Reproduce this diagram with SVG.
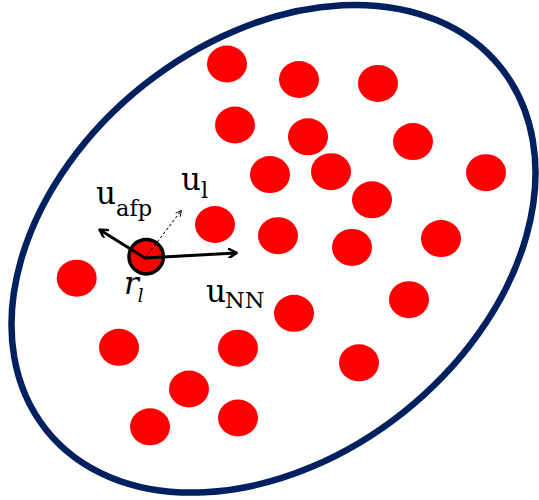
<svg xmlns="http://www.w3.org/2000/svg" width="539" height="500" viewBox="0 0 539 500">
<style>
.dot{fill:#ff0000}
.lbl{font-family:"DejaVu Serif","Liberation Serif",serif;fill:#000}
.main{font-size:31px}
.sub{font-size:22.5px}
.vec{stroke:#000;stroke-width:3;fill:none;stroke-linecap:round}
</style>
<defs>
<marker id="ah" markerWidth="10" markerHeight="10" refX="8" refY="5" orient="auto" markerUnits="userSpaceOnUse">
<path d="M1,0.5 L8.5,5 L1,9.5" fill="none" stroke="#000" stroke-width="2.5" stroke-linecap="round" stroke-linejoin="round"/>
</marker>
<marker id="ahs" markerWidth="8" markerHeight="8" refX="6" refY="4" orient="auto" markerUnits="userSpaceOnUse">
<path d="M1,1 L6.5,4 L1,7" fill="none" stroke="#000" stroke-width="1"/>
</marker>
</defs>
<g id="boundary">
<ellipse cx="273.5" cy="248.75" rx="290.6" ry="208.9" transform="rotate(-38.5 273.5 248.75)" fill="#fff" stroke="#002060" stroke-width="6.5"/>
</g>
<g id="particles">
<ellipse class="dot" cx="227" cy="64" rx="20" ry="18.5"/>
<ellipse class="dot" cx="299" cy="79.5" rx="20" ry="18.5"/>
<ellipse class="dot" cx="378" cy="83.4" rx="20" ry="18.5"/>
<ellipse class="dot" cx="235" cy="125" rx="20" ry="18.5"/>
<ellipse class="dot" cx="308" cy="136.8" rx="20" ry="18.5"/>
<ellipse class="dot" cx="413" cy="141.6" rx="20" ry="18.5"/>
<ellipse class="dot" cx="270" cy="174.6" rx="20" ry="18.5"/>
<ellipse class="dot" cx="331" cy="171.7" rx="20" ry="18.5"/>
<ellipse class="dot" cx="486" cy="172.7" rx="20" ry="18.5"/>
<ellipse class="dot" cx="372" cy="199.8" rx="20" ry="18.5"/>
<ellipse class="dot" cx="215" cy="224.5" rx="20" ry="18.5"/>
<ellipse class="dot" cx="278" cy="235.7" rx="20" ry="18.5"/>
<ellipse class="dot" cx="352" cy="247.4" rx="20" ry="18.5"/>
<ellipse class="dot" cx="441" cy="238.6" rx="20" ry="18.5"/>
<ellipse class="dot" cx="76.7" cy="278.2" rx="20" ry="18.5"/>
<ellipse class="dot" cx="294" cy="313.3" rx="20" ry="18.5"/>
<ellipse class="dot" cx="409" cy="299.7" rx="20" ry="18.5"/>
<ellipse class="dot" cx="119" cy="347.3" rx="20" ry="18.5"/>
<ellipse class="dot" cx="238" cy="348.2" rx="20" ry="18.5"/>
<ellipse class="dot" cx="359" cy="362.8" rx="20" ry="18.5"/>
<ellipse class="dot" cx="189" cy="389" rx="20" ry="18.5"/>
<ellipse class="dot" cx="150" cy="426.8" rx="20" ry="18.5"/>
<ellipse class="dot" cx="238" cy="418" rx="20" ry="18.5"/>
</g>
<g id="focal">
<circle cx="146.2" cy="256.7" r="17.2" fill="#ff0000" stroke="#000" stroke-width="3.5"/>
</g>
<g id="connectors">
<line class="vec" x1="145" y1="258" x2="100" y2="230" marker-end="url(#ah)"/>
<line class="vec" x1="145" y1="258" x2="236" y2="253" marker-end="url(#ah)"/>
<line x1="145" y1="258" x2="181" y2="211" stroke="#000" stroke-width="1" stroke-dasharray="3,2" marker-end="url(#ahs)"/>
</g>
<g id="labels">
<text class="lbl main" x="96" y="204">u<tspan class="sub" dy="12">afp</tspan></text>
<text class="lbl main" x="181" y="190">u<tspan class="sub" dy="8">l</tspan></text>
<text class="lbl main" x="206" y="301.7">u<tspan class="sub" dx="-1" dy="6.6">NN</tspan></text>
<text class="lbl main" x="124" y="293.5" font-style="italic">r<tspan font-size="18px" dx="-1" dy="8">l</tspan></text>
</g>
</svg>
